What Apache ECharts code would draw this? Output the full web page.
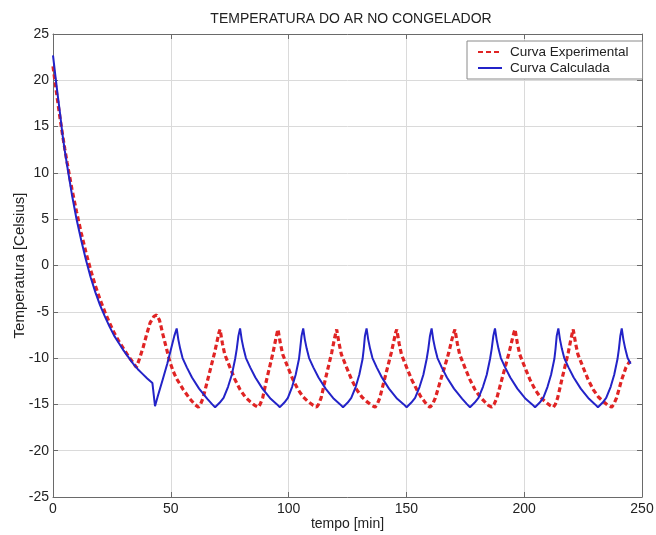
<!DOCTYPE html>
<html>
<head>
<meta charset="utf-8">
<script src="https://cdn.jsdelivr.net/npm/echarts@6/dist/echarts.min.js"></script>
<style>
html,body{margin:0;padding:0;background:#fff;}
#chart{width:656px;height:535px;}
</style>
</head>
<body>
<div id="chart"></div>
<script>
var titleText = 'TEMPERATURA DO AR NO CONGELADOR';
var xName = 'tempo [min]';
var yName = 'Temperatura [Celsius]';
var seriesNames = ['Curva Experimental', 'Curva Calculada'];

var expTime = [0,1,2,3,4,5,6,8,10,12,14,16,18,20,22,24,26,28,30,32,34,35.4,
  36.8,38.3,39.8,41.2,42.8,44.0,45.2,46.7,48.2,49.6,51.0,52.4,55.3,58.1,60.2,61.7,
  62.6,63.7,65.6,67.2,68.6,69.8,70.4,70.9,
  71.9,72.9,75.1,77.2,79.4,81.6,83.7,85.6,87.1,
  87.9,89.0,90.6,92.1,93.4,94.5,95.1,95.5,
  96.5,97.5,99.7,101.8,104.0,106.2,108.3,110.4,111.9,
  112.7,113.8,115.5,117.0,118.3,119.4,120.0,120.4,
  121.4,122.4,124.6,126.7,128.9,131.1,133.2,135.2,136.7,
  137.6,138.7,140.6,142.2,143.6,144.8,145.4,145.9,
  146.9,147.9,150.1,152.2,154.4,156.2,157.7,158.9,160.0,
  161.1,162.3,164.5,166.4,168.0,169.3,170.1,170.6,
  171.6,172.6,174.8,176.9,179.1,181.3,183.2,184.8,186.2,
  187.2,188.4,190.4,192.1,193.6,194.9,195.6,196.1,
  197.1,198.1,200.3,202.4,204.6,206.8,208.9,210.9,212.4,
  213.2,214.2,215.9,217.4,218.7,219.8,220.4,220.8,
  221.8,222.8,225.0,227.1,229.3,231.5,233.6,235.6,237.1,
  238.0,239.2,241.3,243.2,244.9];
var expTemp = [21.5,19.6,17.7,15.9,14.2,12.6,11.1,8.3,5.8,3.5,1.4,-0.5,-2.2,-3.7,-5.0,-6.2,-7.3,-8.2,-9.0,-9.8,-10.5,-11.0,
  -10.0,-8.8,-7.4,-6.2,-5.5,-5.35,-5.9,-7.5,-9.0,-10.4,-11.4,-12.2,-13.4,-14.4,-15.0,-15.3,
  -15.0,-14.3,-12.4,-10.8,-9.4,-8.0,-7.3,-6.9,
  -8.4,-9.6,-11.0,-12.3,-13.4,-14.2,-14.7,-15.1,-15.3,
  -15.0,-14.3,-12.4,-10.8,-9.4,-8.0,-7.3,-6.9,
  -8.4,-9.6,-11.0,-12.3,-13.4,-14.2,-14.7,-15.1,-15.3,
  -15.0,-14.3,-12.4,-10.8,-9.4,-8.0,-7.3,-6.9,
  -8.4,-9.6,-11.0,-12.3,-13.4,-14.2,-14.7,-15.1,-15.3,
  -15.0,-14.3,-12.4,-10.8,-9.4,-8.0,-7.3,-6.9,
  -8.4,-9.6,-11.0,-12.3,-13.4,-14.2,-14.7,-15.1,-15.3,
  -15.0,-14.3,-12.4,-10.8,-9.4,-8.0,-7.3,-6.9,
  -8.4,-9.6,-11.0,-12.3,-13.4,-14.2,-14.7,-15.1,-15.3,
  -15.0,-14.3,-12.4,-10.8,-9.4,-8.0,-7.3,-6.9,
  -8.4,-9.6,-11.0,-12.3,-13.4,-14.2,-14.7,-15.1,-15.3,
  -15.0,-14.3,-12.4,-10.8,-9.4,-8.0,-7.3,-6.9,
  -8.4,-9.6,-11.0,-12.3,-13.4,-14.2,-14.7,-15.1,-15.3,
  -15.0,-14.3,-12.4,-11.0,-10.3];

var calcTime = [0,1,2,3,4,5,6,8,10,12,14,16,18,20,22,24,26,28,30,32,34,36,38,40,42.2,
  43.3,44.5,46.7,48.5,50.2,51.5,52.5,
  53.2,54.0,55.0,56.8,59.0,62.0,65.5,67.6,68.8,70.8,72.4,74.3,75.9,77.3,78.0,78.7,79.4,
  80.1,80.9,81.9,83.7,85.9,88.9,92.4,95.1,96.3,98.2,99.7,101.5,103.0,104.4,104.9,105.5,106.2,
  106.9,107.7,108.7,110.5,112.7,115.7,119.2,121.9,123.1,125.1,126.6,128.5,130.0,131.4,131.9,132.4,133.1,
  133.8,134.6,135.6,137.4,139.6,142.6,146.1,148.9,150.1,152.1,153.7,155.6,157.2,158.6,159.3,160.0,160.7,
  161.4,162.2,163.2,165.0,167.2,170.2,173.7,175.8,177.0,179.0,180.6,182.5,184.1,185.5,186.2,186.9,187.6,
  188.3,189.1,190.1,191.9,194.1,197.1,200.6,203.4,204.6,206.6,208.1,209.9,211.4,212.8,213.3,213.8,214.5,
  215.2,216.0,217.0,218.8,221.0,224.0,227.5,230.1,231.3,233.3,234.8,236.7,238.2,239.6,240.2,240.8,241.4,
  242.1,242.9,243.9,245.2];
var calcTemp = [22.7,20.5,18.4,16.4,14.2,12.4,10.8,7.7,5.0,2.7,0.6,-1.3,-2.9,-4.3,-5.5,-6.6,-7.6,-8.4,-9.2,-9.9,-10.6,-11.2,-11.7,-12.2,-12.7,
  -15.2,-14.1,-12.2,-10.6,-8.9,-7.6,-6.8,
  -8.0,-9.0,-10.0,-11.0,-12.1,-13.3,-14.4,-15.0,-15.3,-14.8,-14.3,-13.1,-11.8,-10.1,-9.0,-7.6,-6.8,
  -8.0,-9.0,-10.0,-11.0,-12.1,-13.3,-14.4,-15.0,-15.3,-14.8,-14.3,-13.1,-11.8,-10.1,-9.0,-7.6,-6.8,
  -8.0,-9.0,-10.0,-11.0,-12.1,-13.3,-14.4,-15.0,-15.3,-14.8,-14.3,-13.1,-11.8,-10.1,-9.0,-7.6,-6.8,
  -8.0,-9.0,-10.0,-11.0,-12.1,-13.3,-14.4,-15.0,-15.3,-14.8,-14.3,-13.1,-11.8,-10.1,-9.0,-7.6,-6.8,
  -8.0,-9.0,-10.0,-11.0,-12.1,-13.3,-14.4,-15.0,-15.3,-14.8,-14.3,-13.1,-11.8,-10.1,-9.0,-7.6,-6.8,
  -8.0,-9.0,-10.0,-11.0,-12.1,-13.3,-14.4,-15.0,-15.3,-14.8,-14.3,-13.1,-11.8,-10.1,-9.0,-7.6,-6.8,
  -8.0,-9.0,-10.0,-11.0,-12.1,-13.3,-14.4,-15.0,-15.3,-14.8,-14.3,-13.1,-11.8,-10.1,-9.0,-7.6,-6.8,
  -8.0,-9.0,-10.0,-10.6];

function zip(xs, ys){ var out=[]; for(var i=0;i<xs.length;i++){ out.push([xs[i], ys[i]]); } return out; }

var FONT = 'Liberation Sans, Arial, Helvetica, sans-serif';
var chart = echarts.init(document.getElementById('chart'), null, {renderer:'canvas'});
var axisLineStyle = {color:'#6a6a6a', width:1};
var gridLine = {show:true, lineStyle:{color:'#dadada', width:1}};
chart.setOption({
  backgroundColor:'#ffffff',
  animation:false,
  title:{text:titleText, left:346, top:7, textAlign:'center',
    textStyle:{fontFamily:FONT, fontSize:14, fontWeight:'normal', color:'#222'}},
  legend:{
    orient:'vertical', left:467, top:41,
    padding:[4,14,4,10], itemGap:2, itemWidth:24, itemHeight:14,
    backgroundColor:'#ffffff', borderColor:'#8a8a8a', borderWidth:1, borderRadius:0,
    itemStyle:{opacity:0},
    textStyle:{fontFamily:FONT, fontSize:13.5, color:'#222', padding:[0,0,0,3]},
    data:seriesNames
  },
  grid:{left:53, right:14, top:34, bottom:38, containLabel:false, outerBoundsMode:'none'},
  xAxis:[{
    type:'value', min:0, max:250, interval:50, position:'bottom',
    name:xName, nameLocation:'middle', nameGap:20, nameMoveOverlap:false,
    nameTextStyle:{fontFamily:FONT, fontSize:14, color:'#222', verticalAlign:'top'},
    axisLine:{show:true, onZero:false, lineStyle:axisLineStyle},
    axisTick:{show:true, inside:true, length:5, lineStyle:axisLineStyle},
    axisLabel:{fontFamily:FONT, fontSize:14, color:'#222', margin:5},
    splitLine:gridLine
  },{
    type:'value', min:0, max:250, interval:50, position:'top',
    axisLine:{show:true, onZero:false, lineStyle:axisLineStyle},
    axisTick:{show:true, inside:true, length:5, lineStyle:axisLineStyle},
    axisLabel:{show:false}, splitLine:{show:false}
  }],
  yAxis:[{
    type:'value', min:-25, max:25, interval:5, position:'left',
    name:yName, nameLocation:'middle', nameGap:26, nameRotate:90, nameMoveOverlap:false,
    nameTextStyle:{fontFamily:FONT, fontSize:15, color:'#222'},
    axisLine:{show:true, onZero:false, lineStyle:axisLineStyle},
    axisTick:{show:true, inside:true, length:5, lineStyle:axisLineStyle},
    axisLabel:{fontFamily:FONT, fontSize:14, color:'#222', margin:4},
    splitLine:gridLine
  },{
    type:'value', min:-25, max:25, interval:5, position:'right',
    axisLine:{show:true, onZero:false, lineStyle:axisLineStyle},
    axisTick:{show:true, inside:true, length:5, lineStyle:axisLineStyle},
    axisLabel:{show:false}, splitLine:{show:false}
  }],
  series:[{
    name:seriesNames[0], type:'line', data:zip(expTime, expTemp),
    symbol:'none', smooth:false, z:2,
    lineStyle:{color:'#e02424', width:3.2, type:[5,3]},
    itemStyle:{color:'#e02424'}
  },{
    name:seriesNames[1], type:'line', data:zip(calcTime, calcTemp),
    symbol:'none', smooth:false, z:3,
    lineStyle:{color:'#2323c8', width:2},
    itemStyle:{color:'#2323c8'}
  }]
});
</script>
</body>
</html>
